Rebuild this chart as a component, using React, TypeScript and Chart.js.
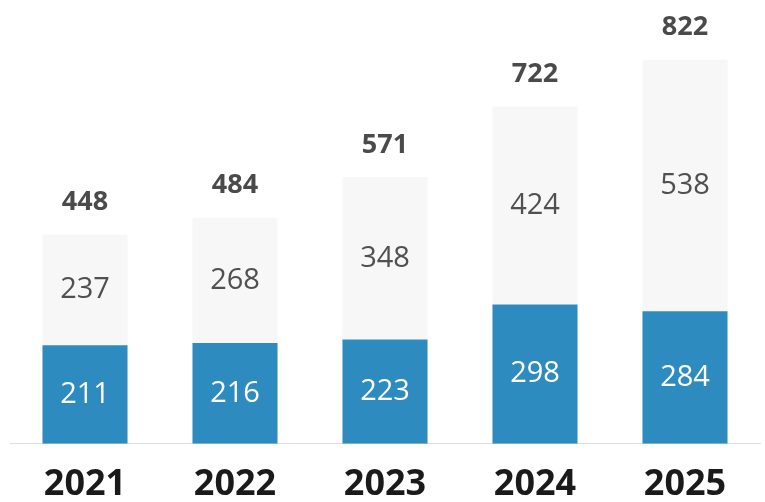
import React, { useEffect, useRef } from "react";
import { Chart, registerables } from "chart.js";

Chart.register(...registerables);

const years = ["2021", "2022", "2023", "2024", "2025"];
const baseValues = [211, 216, 223, 298, 284];
const topValues = [237, 268, 348, 424, 538];
const totals = [448, 484, 571, 722, 822];

const labelPlugin = {
  id: "barLabels",
  afterDatasetsDraw(chart: any) {
    const ctx = chart.ctx;
    ctx.save();
    ctx.textAlign = "center";
    ctx.textBaseline = "middle";
    const m0 = chart.getDatasetMeta(0);
    const m1 = chart.getDatasetMeta(1);
    m0.data.forEach((el: any, i: number) => {
      const mid = (el.y + el.base) / 2;
      ctx.font = "400 29px 'Open Sans'";
      ctx.fillStyle = "#ffffff";
      ctx.fillText(String(baseValues[i]), el.x, mid);
    });
    m1.data.forEach((el: any, i: number) => {
      const mid = (el.y + el.base) / 2;
      ctx.font = "400 29px 'Open Sans'";
      ctx.fillStyle = "#505050";
      ctx.fillText(String(topValues[i]), el.x, mid);
      ctx.font = "700 27px 'Open Sans'";
      ctx.fillStyle = "#4a4a4a";
      ctx.fillText(String(totals[i]), el.x, el.y - 32);
    });
    ctx.restore();
  },
};

export default function App() {
  const ref = useRef<HTMLCanvasElement>(null);
  useEffect(() => {
    document.body.style.margin = "0";
    const chart = new Chart(ref.current!, {
      type: "bar",
      data: {
        labels: years,
        datasets: [
          {
            data: baseValues,
            backgroundColor: "#2d8bc0",
            barPercentage: 0.567,
            categoryPercentage: 1,
          },
          {
            data: topValues,
            backgroundColor: "#f7f7f7",
            barPercentage: 0.567,
            categoryPercentage: 1,
          },
        ],
      },
      options: {
        animation: false,
        responsive: false,
        layout: { padding: { left: 10, right: 5, top: 0, bottom: -15 } },
        plugins: { legend: { display: false }, tooltip: { enabled: false } },
        scales: {
          x: {
            stacked: true,
            grid: { display: false },
            border: { display: true, color: "#dedede", width: 1 },
            ticks: {
              color: "#1a1a1a",
              padding: 11,
              font: { family: "'Open Sans'", size: 36, weight: "bold" },
            },
          },
          y: {
            stacked: true,
            display: false,
            min: 0,
            max: 950,
          },
        },
      },
      plugins: [labelPlugin],
    });
    return () => chart.destroy();
  }, []);
  return <canvas ref={ref} width={765} height={502} style={{ display: "block" }} />;
}
